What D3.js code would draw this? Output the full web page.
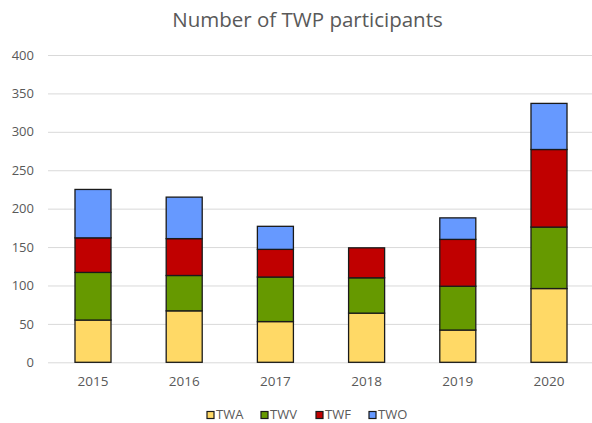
<!DOCTYPE html>
<html><head><meta charset="utf-8">
<script src="https://cdn.jsdelivr.net/npm/d3@7"></script>
<style>body{margin:0;background:#fff}svg{display:block}text{font-family:"Open Sans",sans-serif;fill:#595959}</style>
</head><body><svg id="c" width="592" height="423"></svg>
<script>
const years = ["2015","2016","2017","2018","2019","2020"];
const seriesNames = ["TWA","TWV","TWF","TWO"];
const TWA = [55, 67, 53, 64, 42, 96];
const TWV = [62, 46, 58, 46, 57, 80];
const TWF = [45, 48, 36, 39, 61, 101];
const TWO = [63, 54, 30, 0, 28, 60];
const yTicks = [0,50,100,150,200,250,300,350,400];
const colors = ["#FFD966","#669900","#C00000","#6699FF"];

const svg = d3.select("#c");
const x = d3.scaleBand().domain(years).range([47.4, 594.6]).paddingInner(0.605).paddingOuter(0.3025);
const y = d3.scaleLinear().domain([0,400]).range([362.3, 55]);

svg.append("text").attr("x", 307.5).attr("y", 27).attr("text-anchor","middle")
  .style("font-size","20.5px").text("Number of TWP participants");

const gy = svg.append("g").attr("transform","translate(48,0)")
  .call(d3.axisLeft(y).tickValues(yTicks).tickSize(-544).tickPadding(14));
gy.select(".domain").remove();
gy.selectAll(".tick line").attr("stroke","#d9d9d9").attr("stroke-width",1);
gy.selectAll(".tick text").style("font-size","13px").attr("fill","#595959").style("font-family","'Open Sans',sans-serif");

const gx = svg.append("g").attr("transform","translate(0,362.3)")
  .call(d3.axisBottom(x).tickSize(0).tickPadding(14));
gx.select(".domain").remove();
gx.selectAll(".tick text").style("font-size","13.5px").attr("fill","#595959").style("font-family","'Open Sans',sans-serif");

const data = years.map((yr,i)=>({year:yr, TWA:TWA[i], TWV:TWV[i], TWF:TWF[i], TWO:TWO[i]}));
const stack = d3.stack().keys(seriesNames)(data);
stack.forEach((s,si)=>{
  svg.append("g").selectAll("rect").data(s.filter(d=>d[1]-d[0]>0)).join("rect")
    .attr("x", d=>x(d.data.year)).attr("width", x.bandwidth())
    .attr("y", d=>y(d[1])).attr("height", d=>y(d[0])-y(d[1]))
    .attr("fill", colors[si]).attr("stroke","#1a1a1a").attr("stroke-width",1.3);
});

const legX = [207, 261, 316, 369];
const lg = svg.append("g");
seriesNames.forEach((n,i)=>{
  lg.append("rect").attr("x",legX[i]).attr("y",411.5).attr("width",7).attr("height",7)
    .attr("fill",colors[i]).attr("stroke","#1a1a1a").attr("stroke-width",1.2);
  lg.append("text").attr("x",legX[i]+9).attr("y",419).style("font-size","13px").text(n);
});
</script></body></html>
